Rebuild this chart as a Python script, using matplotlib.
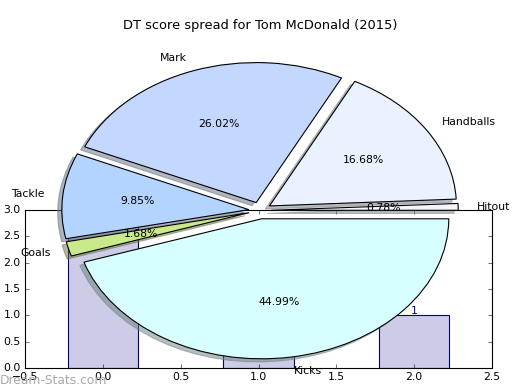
import matplotlib
matplotlib.use('Agg')
import matplotlib.pyplot as plt

# pie data (share of DT score, %)
labels = ['Hitout', 'Handballs', 'Mark', 'Tackle', 'Goals', 'Kicks']
shares = [0.78, 16.68, 26.02, 9.85, 1.68, 44.99]
colors = ['#f4f4ff', '#eaf1ff', '#c4d8ff', '#b3d4ff', '#c9e98a', '#d8ffff']
explode = [0.06] * 6

# bar data (mostly hidden under the pie)
bar_x = [0, 1, 2]
bar_h = [3, 2, 1]

plt.style.use('classic')
fig = plt.figure(figsize=(6.5, 4.875), dpi=80, facecolor='white')

# bar chart underneath
ax = fig.add_axes([25/520, 22/390, 467/520, 158/390])
ax.bar(bar_x, bar_h, width=0.45, align='center', color='#cccce6', edgecolor='navy')
for x, h in zip(bar_x, bar_h):
    ax.text(x, h + 0.03, str(h), ha='center', va='baseline', color='navy', fontsize=9.75)
ax.set_xlim(-0.5, 2.5)
ax.set_ylim(0, 3)
ax.tick_params(labelsize=9.75)

# pie on top, transparent, not equal aspect (elliptical like the original)
pax = fig.add_axes([(260 - 1.3*187)/520, 11.5/390, 2.6*187/520, 336/390])
pax.patch.set_alpha(0)
pax.pie(shares, labels=labels, colors=colors, explode=explode,
        shadow={'ox': -0.02, 'oy': -0.02, 'shade': 0.5},
        autopct='%1.2f%%', textprops={'fontsize': 9.75})
pax.set_aspect('auto')
pax.set_xlim(-1.3, 1.3)
pax.set_ylim(-1.2, 1.2)
pax.axis('off')

fig.text(0.5, 1 - 25/390, 'DT score spread for Tom McDonald (2015)',
         ha='center', va='center', fontsize=11.7)
fig.text(0.0, 10/390, 'Dream-Stats.com', ha='left', va='center',
         fontsize=11, color='#a8a8a8')

plt.savefig('out.png', dpi=80, facecolor='white')
